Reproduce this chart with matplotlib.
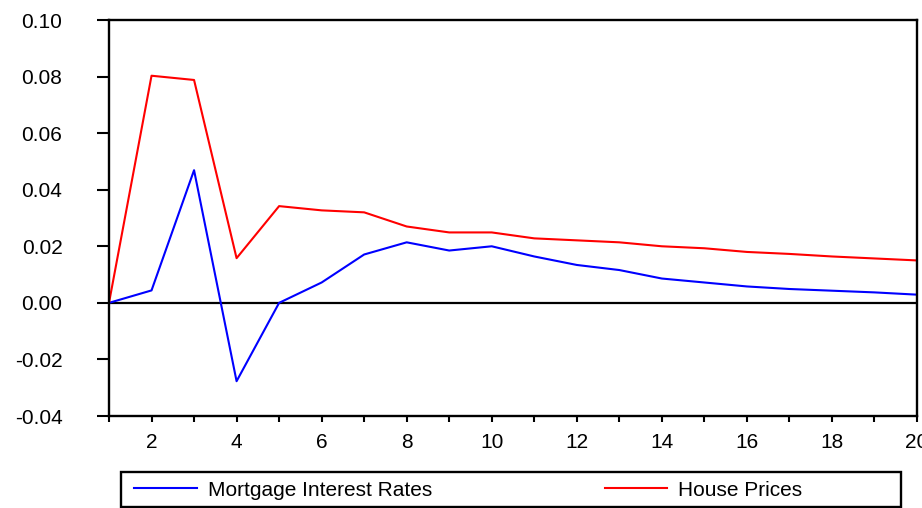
import matplotlib

matplotlib.use("Agg")
import matplotlib.pyplot as plt
from matplotlib.patches import Rectangle
from matplotlib.ticker import FixedLocator, FormatStrFormatter

plt.rcParams["font.family"] = ["Liberation Sans", "DejaVu Sans"]
plt.rcParams["axes.unicode_minus"] = False

PERIODS = list(range(1, 21))
MORTGAGE_RATES = [
    0.0, 0.0044, 0.0469, -0.0277, 0.0, 0.0072, 0.0171, 0.0214, 0.0185, 0.0200,
    0.0164, 0.0134, 0.0116, 0.0086, 0.0072, 0.0058, 0.0049, 0.0043, 0.0037, 0.0029,
]
HOUSE_PRICES = [
    0.0, 0.0803, 0.0788, 0.0158, 0.0342, 0.0327, 0.0320, 0.0270, 0.0249, 0.0249,
    0.0228, 0.0221, 0.0214, 0.0200, 0.0193, 0.0180, 0.0173, 0.0164, 0.0157, 0.0150,
]
SERIES_LABELS = ["Mortgage Interest Rates", "House Prices"]
Y_TICKS = [-0.04, -0.02, 0.00, 0.02, 0.04, 0.06, 0.08, 0.10]
X_MAJOR = list(range(2, 21, 2))
X_MINOR = list(range(1, 20, 2))

W, H = 922, 508
fig = plt.figure(figsize=(W / 100, H / 100), dpi=100)
ax = fig.add_axes([109 / W, 1 - 416 / H, 808 / W, 396 / H])

line_mortgage, = ax.plot(PERIODS, MORTGAGE_RATES, color="#0000ff", linewidth=1.5)
line_house, = ax.plot(PERIODS, HOUSE_PRICES, color="#ff0000", linewidth=1.5)
ax.axhline(0, color="black", linewidth=1.6, zorder=1)

ax.set_xlim(1, 20)
ax.set_ylim(-0.04, 0.10)
ax.set_yticks(Y_TICKS)
ax.yaxis.set_major_formatter(FormatStrFormatter("%.2f"))
ax.set_xticks(X_MAJOR)
ax.xaxis.set_minor_locator(FixedLocator(X_MINOR))

for spine in ax.spines.values():
    spine.set_linewidth(1.7)

ax.tick_params(axis="y", direction="out", length=8.5, width=1.5, pad=25, labelsize=15)
ax.tick_params(axis="x", which="both", direction="out", length=4.3, width=1.5,
               pad=8, labelsize=15)

# legend box along the bottom
fig.add_artist(Rectangle((121 / W, 1 - 507 / H), 780 / W, 35 / H,
                         transform=fig.transFigure, fill=False,
                         edgecolor="black", linewidth=1.7))
fig.legend(
    [line_mortgage, line_house],
    SERIES_LABELS,
    loc="center left",
    bbox_to_anchor=(134 / W, 1 - 490 / H),
    ncol=2,
    frameon=False,
    fontsize=15,
    handlelength=3.0,
    handletextpad=0.53,
    columnspacing=8.3,
    borderpad=0,
    borderaxespad=0,
)

fig.savefig("out.png", dpi=100)
